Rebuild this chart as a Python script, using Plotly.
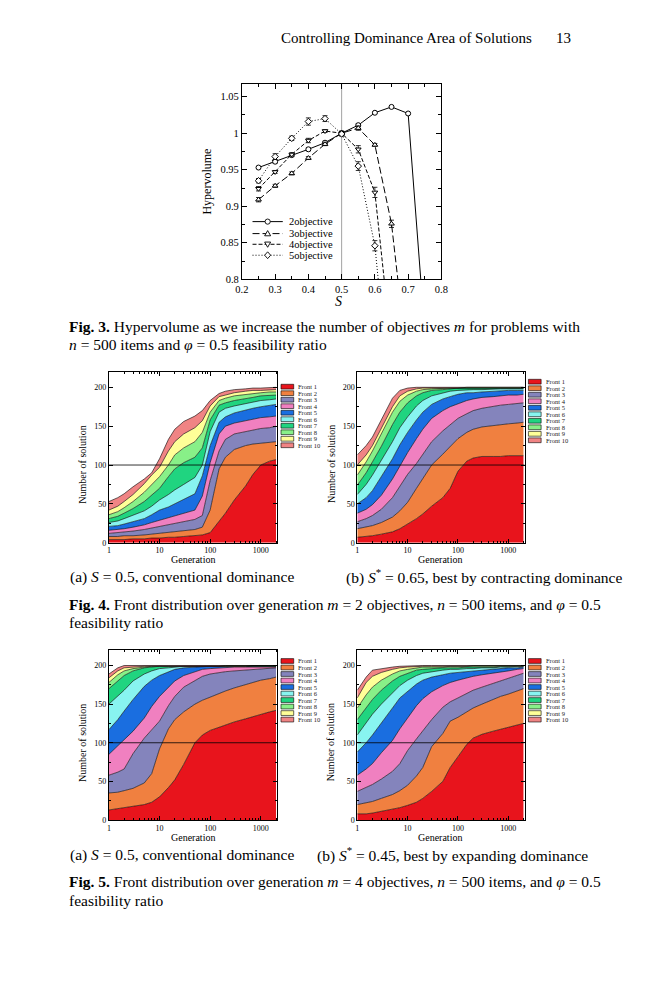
import plotly.graph_objects as go

# the page body keeps its 8px default margin, so the figure is sized to fit inside it
PAGE_W, PAGE_H, BODY = 651, 1000, 8
W, H = PAGE_W - 2 * BODY, PAGE_H - 2 * BODY
SERIF = "Liberation Serif, DejaVu Serif, serif"

# ---------------- Fig. 3 data: hypervolume vs S ----------------
S_2OBJ = [0.25, 0.3, 0.35, 0.4, 0.45, 0.5, 0.55, 0.6, 0.65, 0.7, 0.75]
HV_2OBJ = [0.953, 0.961, 0.970, 0.978, 0.987, 1.000, 1.011, 1.028, 1.036, 1.027, 0.728]
ERR_2OBJ = [0.001, 0.002, 0.002, 0.002, 0.002, 0.002, 0.002, 0.001, 0.001, 0.001, 0]

S_3OBJ = [0.25, 0.3, 0.35, 0.4, 0.45, 0.5, 0.55, 0.6, 0.65, 0.7]
HV_3OBJ = [0.909, 0.928, 0.945, 0.966, 0.985, 1.000, 1.007, 0.984, 0.876, 0.676]
ERR_3OBJ = [0.003, 0.002, 0.002, 0.002, 0.002, 0.002, 0.003, 0.002, 0.005, 0]

S_4OBJ = [0.25, 0.3, 0.35, 0.4, 0.45, 0.5, 0.55, 0.6, 0.65]
HV_4OBJ = [0.924, 0.947, 0.971, 0.990, 1.003, 1.000, 0.978, 0.919, 0.706]
ERR_4OBJ = [0.003, 0.002, 0.002, 0.003, 0.002, 0.003, 0.005, 0.007, 0]

S_5OBJ = [0.25, 0.3, 0.35, 0.4, 0.45, 0.5, 0.55, 0.6, 0.65]
HV_5OBJ = [0.935, 0.968, 0.993, 1.016, 1.020, 0.999, 0.955, 0.846, 0.616]
ERR_5OBJ = [0.003, 0.004, 0.003, 0.005, 0.004, 0.003, 0.006, 0.007, 0]

SERIES_NAMES = ["2objective", "3objective", "4objective", "5objective"]

# ---------------- Fig. 4 / 5 data: cumulative front sizes ----------------
GEN = [1, 1.5, 2, 3, 5, 7, 10, 15, 20, 30, 50, 70, 100, 150, 200, 300, 500, 700, 1000, 1500, 2000]
FRONT_NAMES = ["Front 1", "Front 2", "Front 3", "Front 4", "Front 5",
               "Front 6", "Front 7", "Front 8", "Front 9", "Front 10"]
FRONT_COLORS = ["#e8141c", "#f08040", "#8484bc", "#f080c0", "#1a6ee0",
                "#88f4f0", "#20d480", "#88f088", "#ffff98", "#f08484"]

# Fig. 4(a): S = 0.5, m = 2
FIG4A = [
    [4, 4, 4, 5, 5, 6, 6, 7, 7, 8, 9, 10, 13, 27, 38, 55, 73, 88, 100, 105, 107],
    [8, 8, 9, 9, 10, 11, 12, 13, 14, 15, 17, 20, 42, 95, 110, 120, 125, 127, 128, 129, 130],
    [12, 13, 14, 15, 17, 19, 21, 23, 25, 27, 30, 35, 80, 118, 133, 140, 143, 145, 147, 148, 150],
    [16, 17, 18, 20, 23, 26, 29, 32, 35, 38, 42, 60, 103, 140, 150, 154, 157, 159, 161, 162, 163],
    [21, 22, 24, 27, 31, 36, 42, 46, 50, 55, 63, 86, 125, 155, 162, 167, 171, 173, 175, 177, 178],
    [26, 28, 31, 35, 41, 47, 55, 62, 68, 75, 84, 100, 143, 168, 173, 176, 179, 181, 183, 184, 185],
    [31, 34, 38, 44, 53, 61, 70, 85, 95, 103, 110, 122, 158, 177, 180, 183, 186, 187, 189, 190, 190],
    [36, 40, 45, 53, 65, 75, 85, 100, 113, 122, 130, 142, 168, 183, 186, 189, 191, 192, 193, 194, 194],
    [42, 47, 53, 62, 76, 87, 97, 118, 130, 140, 148, 157, 176, 188, 190, 193, 195, 196, 196, 197, 197],
    [53, 58, 63, 72, 82, 90, 108, 133, 146, 156, 163, 170, 183, 192, 195, 197, 198, 199, 199, 200, 200],
]

# Fig. 4(b): S* = 0.65, m = 2
FIG4B = [
    [7, 8, 9, 11, 14, 18, 24, 31, 37, 47, 58, 70, 92, 105, 109, 111, 111, 111, 112, 112, 112],
    [18, 20, 22, 26, 33, 41, 52, 70, 82, 100, 114, 124, 134, 142, 146, 149, 151, 152, 153, 154, 155],
    [27, 31, 35, 43, 58, 72, 88, 102, 114, 130, 144, 152, 160, 166, 170, 173, 176, 177, 178, 179, 180],
    [38, 43, 49, 61, 82, 99, 116, 134, 146, 160, 170, 175, 179, 183, 185, 187, 188, 189, 190, 190, 191],
    [50, 58, 67, 85, 108, 126, 142, 158, 168, 178, 185, 188, 191, 193, 193, 194, 195, 195, 196, 196, 196],
    [62, 75, 87, 106, 130, 148, 162, 176, 183, 189, 193, 195, 196, 197, 197, 197, 198, 198, 198, 198, 198],
    [74, 90, 104, 124, 152, 168, 180, 189, 193, 196, 197, 198, 199, 199, 199, 199, 199, 199, 199, 199, 199],
    [87, 104, 118, 140, 168, 182, 190, 195, 197, 198, 199, 199, 199, 199, 199, 199, 199, 199, 199, 199, 199],
    [100, 113, 125, 147, 175, 189, 195, 198, 199, 199, 199, 199, 199, 200, 200, 200, 200, 200, 200, 200, 200],
    [113, 125, 136, 158, 186, 196, 199, 200, 200, 200, 200, 200, 200, 200, 200, 200, 200, 200, 200, 200, 200],
]

# Fig. 5(a): S = 0.5, m = 4
FIG5A = [
    [13, 15, 16, 18, 20, 23, 30, 42, 52, 72, 100, 110, 116, 120, 123, 127, 131, 134, 137, 140, 142],
    [35, 36, 38, 41, 48, 60, 92, 118, 130, 140, 150, 155, 159, 164, 167, 171, 175, 178, 181, 183, 185],
    [58, 62, 66, 86, 106, 116, 128, 148, 160, 172, 181, 186, 189, 191, 192, 193, 194, 195, 196, 196, 197],
    [85, 96, 105, 115, 132, 147, 160, 172, 180, 187, 192, 195, 196, 197, 197, 198, 198, 198, 198, 198, 198],
    [117, 130, 141, 156, 173, 181, 187, 192, 195, 197, 198, 198, 199, 199, 199, 199, 199, 199, 199, 199, 199],
    [150, 160, 168, 180, 189, 193, 196, 197, 198, 199, 199, 199, 199, 199, 199, 199, 199, 199, 199, 199, 199],
    [170, 180, 187, 193, 197, 198, 199, 199, 199, 199, 199, 199, 199, 199, 199, 199, 199, 199, 199, 199, 199],
    [178, 188, 193, 196, 198, 199, 199, 199, 199, 199, 199, 199, 199, 199, 199, 199, 199, 200, 200, 200, 200],
    [184, 193, 197, 198, 199, 199, 199, 199, 199, 199, 199, 199, 199, 199, 200, 200, 200, 200, 200, 200, 200],
    [189, 197, 200, 200, 200, 200, 200, 200, 200, 200, 200, 200, 200, 200, 200, 200, 200, 200, 200, 200, 200],
]

# Fig. 5(b): S* = 0.45, m = 4
FIG5B = [
    [8, 8, 9, 11, 14, 16, 19, 23, 28, 37, 50, 68, 82, 98, 106, 111, 115, 117, 120, 123, 125],
    [20, 22, 24, 28, 33, 38, 45, 57, 68, 95, 112, 128, 133, 140, 145, 150, 156, 160, 163, 167, 170],
    [37, 42, 46, 53, 63, 73, 90, 105, 115, 130, 146, 153, 158, 164, 168, 172, 177, 180, 183, 187, 190],
    [58, 66, 73, 87, 103, 118, 132, 148, 157, 166, 174, 178, 181, 184, 186, 188, 190, 191, 193, 195, 196],
    [88, 100, 110, 125, 145, 158, 167, 176, 181, 185, 188, 190, 191, 192, 193, 194, 195, 196, 197, 197, 198],
    [110, 125, 137, 150, 165, 174, 181, 187, 190, 192, 194, 195, 195, 196, 196, 197, 197, 198, 198, 199, 199],
    [130, 145, 156, 168, 180, 186, 190, 194, 195, 196, 197, 197, 197, 198, 198, 198, 198, 199, 199, 199, 199],
    [145, 162, 172, 181, 189, 193, 195, 197, 198, 198, 198, 199, 199, 199, 199, 199, 199, 199, 199, 199, 199],
    [158, 178, 186, 191, 195, 197, 198, 199, 199, 199, 199, 199, 199, 199, 200, 200, 200, 200, 200, 200, 200],
    [168, 185, 194, 196, 198, 199, 199.5, 200, 200, 200, 200, 200, 200, 200, 200, 200, 200, 200, 200, 200, 200],
]


# page pixel -> paper fraction
def px(v):
    return (v - BODY) / W


def py(v):
    return 1 - (v - BODY) / H


fig = go.Figure()

# ---------------- Fig. 3 ----------------
hv_series = [
    (S_2OBJ, HV_2OBJ, ERR_2OBJ, "solid", "circle"),
    (S_3OBJ, HV_3OBJ, ERR_3OBJ, "7px,3px", "triangle-up"),
    (S_4OBJ, HV_4OBJ, ERR_4OBJ, "4px,2px", "triangle-down"),
    (S_5OBJ, HV_5OBJ, ERR_5OBJ, "1px,2px", "diamond"),
]
for name, (sx, hv, err, dash, sym) in zip(SERIES_NAMES, hv_series):
    fig.add_trace(go.Scatter(
        x=sx, y=hv, name=name, mode="lines+markers",
        line=dict(color="black", width=1, dash=dash),
        marker=dict(symbol=sym, size=5, color="white", line=dict(color="black", width=1)),
        error_y=dict(type="data", array=err, color="black", thickness=0.8, width=2.5),
        xaxis="x", yaxis="y", showlegend=False,
    ))

# ---------------- stacked area panels ----------------
panels = [(FIG4A, "2"), (FIG4B, "3"), (FIG5A, "4"), (FIG5B, "5")]
for data, ax in panels:
    for i, (name, vals) in enumerate(zip(FRONT_NAMES, data)):
        fig.add_trace(go.Scatter(
            x=GEN, y=vals, name=name, mode="lines",
            fill="tozeroy" if i == 0 else "tonexty",
            fillcolor=FRONT_COLORS[i],
            line=dict(color="black", width=0.6),
            xaxis="x" + ax, yaxis="y" + ax, showlegend=False,
        ))


def frame(**kw):
    d = dict(showline=True, linecolor="black", linewidth=1, mirror="allticks",
             ticks="inside", tickcolor="black", tickwidth=1, showgrid=False,
             zeroline=False, tickfont=dict(family=SERIF, color="black"))
    d.update(kw)
    return d


# panel boxes, in page pixels
left_x = [px(104), px(276)]
right_x = [px(358), px(529)]
top_y = [py(546), py(374)]
bot_y = [py(825), py(654)]

log_minor = [v * 10 ** k for k in range(4) for v in range(2, 10)]

layout_axes = {}
layout_axes["xaxis"] = frame(domain=[px(240), px(444)], anchor="y", range=[0.2, 0.8],
                             tick0=0.2, dtick=0.1, ticklen=5,
                             tickfont=dict(family=SERIF, size=10.5, color="black"),
                             minor=dict(dtick=0.05, ticks="inside", ticklen=3, tickcolor="black"))
layout_axes["yaxis"] = frame(domain=[py(281), py(84)], anchor="x", range=[0.8, 1.068],
                             tick0=0.8, dtick=0.05, ticklen=5,
                             tickfont=dict(family=SERIF, size=10.5, color="black"),
                             minor=dict(dtick=0.025, ticks="inside", ticklen=3, tickcolor="black"))

for ax, dx, dy in [("2", left_x, top_y), ("3", right_x, top_y), ("4", left_x, bot_y), ("5", right_x, bot_y)]:
    layout_axes["xaxis" + ax] = frame(domain=dx, anchor="y" + ax, type="log", range=[0, 3.322],
                                      tickvals=[1, 10, 100, 1000], ticktext=["1", "10", "100", "1000"],
                                      ticklen=4, tickfont=dict(family=SERIF, size=8, color="black"),
                                      minor=dict(tickvals=log_minor, ticks="inside", ticklen=2,
                                                 tickcolor="black"))
    layout_axes["yaxis" + ax] = frame(domain=dy, anchor="x" + ax, range=[0, 220],
                                      tickvals=[0, 50, 100, 150, 200], ticklen=4,
                                      tickfont=dict(family=SERIF, size=8, color="black"),
                                      minor=dict(dtick=25, ticks="inside", ticklen=2, tickcolor="black"))

shapes = []
annotations = []


def text(x, y, s, size, anchor="left", angle=0):
    annotations.append(dict(
        x=px(x), y=py(y), xref="paper", yref="paper", text=s, showarrow=False,
        xanchor=anchor, yanchor="middle", textangle=angle, borderpad=0,
        font=dict(family=SERIF, size=size, color="black"),
    ))


# vertical reference line at S = 0.5
shapes.append(dict(type="line", xref="x", yref="y domain", x0=0.5, x1=0.5, y0=0, y1=1,
                   line=dict(color="#8a8a8a", width=0.8), layer="below"))

# Fig. 3 legend: sample line, marker glyph drawn as a small pixel-sized shape, label
leg_y = [0.879, 0.8626, 0.848, 0.833]
leg_paths = [
    None,
    "M-3,-2.2 L3,-2.2 L0,3 Z",
    "M-3,2.2 L3,2.2 L0,-3 Z",
    "M0,3.4 L3,0 L0,-3.4 L-3,0 Z",
]
for name, (_, _, _, dash, _), ly, path in zip(SERIES_NAMES, hv_series, leg_y, leg_paths):
    shapes.append(dict(type="line", xref="x", yref="y", x0=0.232, x1=0.323, y0=ly, y1=ly,
                       line=dict(color="black", width=1, dash=dash)))
    glyph = dict(xref="x", yref="y", xsizemode="pixel", ysizemode="pixel",
                 xanchor=0.2775, yanchor=ly, fillcolor="white",
                 line=dict(color="black", width=0.9))
    if path is None:
        glyph.update(type="circle", x0=-2.6, x1=2.6, y0=-2.6, y1=2.6)
    else:
        glyph.update(type="path", path=path)
    shapes.append(glyph)
    annotations.append(dict(x=0.336, y=ly, xref="x", yref="y", text=name, showarrow=False,
                            xanchor="left", font=dict(family=SERIF, size=10.5, color="black")))

# horizontal line at 100 and legends for the area panels
legend_top = {"2": 389, "3": 384, "4": 665, "5": 665}
legend_left = {"2": 280, "3": 533, "4": 280, "5": 533}
for ax in ["2", "3", "4", "5"]:
    shapes.append(dict(type="line", xref="x%s domain" % ax, yref="y" + ax, x0=0, x1=1,
                       y0=100, y1=100, line=dict(color="black", width=0.8)))
    for i, name in enumerate(FRONT_NAMES):
        yc = legend_top[ax] + i * 6.55
        x0 = legend_left[ax]
        shapes.append(dict(type="rect", xref="paper", yref="paper",
                           x0=px(x0), x1=px(x0 + 13), y0=py(yc + 2.4), y1=py(yc - 2.4),
                           fillcolor=FRONT_COLORS[i], line=dict(color="black", width=0.6)))
        annotations.append(dict(x=px(x0 + 15.5), y=py(yc), xref="paper", yref="paper",
                                text=name, showarrow=False, xanchor="left", yanchor="middle",
                                font=dict(family=SERIF, size=6.5, color="#222")))

# page header
text(538, 38, "Controlling Dominance Area of Solutions", 15, anchor="right")
text(578, 38, "13", 15, anchor="right")

# Fig. 3 axis titles and caption
text(204, 183, "Hypervolume", 12, anchor="center", angle=-90)
text(339, 303, "<i>S</i>", 14, anchor="center")
CAP = 15.5
text(62, 328, "<b>Fig. 3.</b> Hypervolume as we increase the number of objectives <i>m</i> for problems with", CAP)
text(62, 347, "<i>n</i> = 500 items and <i>φ</i> = 0.5 feasibility ratio", CAP)

# area panel axis titles
for xl, xc, yc_t, yc_g in [(77, 190, 467, 563), (331, 443, 467, 563),
                           (77, 190, 747, 843), (331, 443, 747, 843)]:
    text(xl, yc_t, "Number of solution", 10, anchor="center", angle=-90)
    text(xc, yc_g, "Generation", 10, anchor="center")

# sub-captions and figure captions
text(63, 580, "(a) <i>S</i> = 0.5, conventional dominance", CAP)
text(345, 580, "(b) <i>S</i><sup>*</sup> = 0.65, best by contracting dominance", CAP)
text(62, 608, "<b>Fig. 4.</b> Front distribution over generation <i>m</i> = 2 objectives, <i>n</i> = 500 items, and <i>φ</i> = 0.5", CAP)
text(62, 626, "feasibility ratio", CAP)
text(63, 860, "(a) <i>S</i> = 0.5, conventional dominance", CAP)
text(316, 860, "(b) <i>S</i><sup>*</sup> = 0.45, best by expanding dominance", CAP)
text(62, 887, "<b>Fig. 5.</b> Front distribution over generation <i>m</i> = 4 objectives, <i>n</i> = 500 items, and <i>φ</i> = 0.5", CAP)
text(62, 906, "feasibility ratio", CAP)

fig.update_layout(
    width=W, height=H,
    margin=dict(l=0, r=0, t=0, b=0),
    paper_bgcolor="white", plot_bgcolor="white",
    showlegend=False,
    shapes=shapes, annotations=annotations,
    **layout_axes,
)

fig.write_html("out.html")
